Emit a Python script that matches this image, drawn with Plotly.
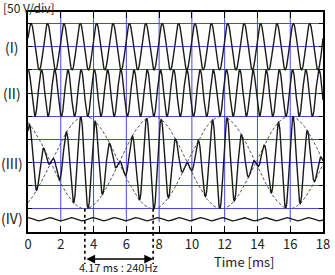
import numpy as np
import plotly.graph_objects as go

# ---- data ----
signal_labels = ["(I)", "(II)", "(III)", "(IV)"]
freq_hz = [1000.0, 1240.0]          # tone (I), tone (II)
first_peak_ms = [0.19, 0.018]       # time of first crest of (I), (II)
amp_div = [1.0, 1.0]                # 1 div = 50 V
baseline_div = [7.0, 5.0, 2.0, -0.45]
ripple_hz = 760.0                   # small residual trace (IV)
ripple_amp_div = 0.07
x_tick_vals = [0, 2, 4, 6, 8, 10, 12, 14, 16, 18]
grid_div = [0, 1, 2, 3, 4, 5, 6, 7, 8]
y_range = [-1.0, 8.5]
x_range = [0, 18]
beat_mark_index = [1, 2]            # envelope crests marked by dotted lines
beat_text = "4.17 ms : 240Hz"
scale_text = "[50 V/div]"
x_title = "Time [ms]"

t = np.linspace(x_range[0], x_range[1], 4001)
phi1 = 2 * np.pi * freq_hz[0] * (t - first_peak_ms[0]) / 1000.0
phi2 = 2 * np.pi * freq_hz[1] * (t - first_peak_ms[1]) / 1000.0
s1 = amp_div[0] * np.cos(phi1)
s2 = amp_div[1] * np.cos(phi2)
s3 = s1 + s2
env = (amp_div[0] + amp_div[1]) * np.cos((phi2 - phi1) / 2)
s4 = ripple_amp_div * np.cos(2 * np.pi * ripple_hz * t / 1000.0)

beat_hz = freq_hz[1] - freq_hz[0]
c0 = (freq_hz[0] * first_peak_ms[0] - freq_hz[1] * first_peak_ms[1]) / 1000.0
beat_marks = [(k - c0) / beat_hz * 1000.0 for k in beat_mark_index]

BLUE = "rgb(70,70,235)"
LINE = "#1a1a1a"
FONT = "Noto Sans CJK JP"

fig = go.Figure()
fig.add_trace(go.Scatter(x=t, y=baseline_div[2] + env, mode="lines",
                         line=dict(color="#555", width=1, dash="3px,2px"), hoverinfo="skip"))
fig.add_trace(go.Scatter(x=t, y=baseline_div[2] - env, mode="lines",
                         line=dict(color="#555", width=1, dash="3px,2px"), hoverinfo="skip"))
for base, s in zip(baseline_div, [s1, s2, s3, s4]):
    fig.add_trace(go.Scatter(x=t, y=base + s, mode="lines",
                             line=dict(color=LINE, width=1.4), hoverinfo="skip"))

# vertical grid lines (stop just under trace IV)
for xv in x_tick_vals[1:-1]:
    fig.add_shape(type="line", xref="x", yref="y", x0=xv, x1=xv,
                  y0=baseline_div[3] - 0.12, y1=y_range[1],
                  line=dict(color=BLUE, width=1), layer="below")

# dotted beat markers
def ypaper(v):
    return (v - y_range[0]) / (y_range[1] - y_range[0])

for bm in beat_marks:
    fig.add_shape(type="line", xref="x", yref="paper", x0=bm, x1=bm,
                  y0=ypaper(0), y1=-0.145,
                  line=dict(color="black", width=1.6, dash="dot"))

fig.add_annotation(x=beat_marks[1], y=-0.123, ax=beat_marks[0], ay=0,
                   xref="x", yref="paper", axref="x", ayref="pixel",
                   text="", showarrow=True, arrowhead=2, arrowside="end+start",
                   arrowsize=1.1, arrowwidth=1.6, arrowcolor="black")
fig.add_annotation(x=sum(beat_marks) / 2, y=-0.157, xref="x", yref="paper",
                   text=beat_text, showarrow=False, xanchor="center", yanchor="middle",
                   font=dict(family=FONT, size=11, color="#222"))

label_y = [baseline_div[0], baseline_div[1], baseline_div[2], baseline_div[3] + 0.05]
for lab, ly in zip(signal_labels, label_y):
    fig.add_annotation(x=-0.053, y=ly, xref="paper", yref="y", text=lab,
                       showarrow=False, xanchor="center", yanchor="middle",
                       font=dict(family=FONT, size=14, color="#222"))

fig.add_annotation(x=-0.09, y=1.022, xref="paper", yref="paper", text=scale_text,
                   showarrow=False, xanchor="left", yanchor="middle",
                   font=dict(family=FONT, size=12, color="#222"))
fig.add_annotation(x=0.732, y=-0.132, xref="paper", yref="paper", text=x_title,
                   showarrow=False, xanchor="center", yanchor="middle",
                   font=dict(family=FONT, size=13, color="#222"))

fig.update_xaxes(range=x_range, tickvals=x_tick_vals, ticktext=[str(v) for v in x_tick_vals],
                 showgrid=False, zeroline=False, showline=True, linecolor="black",
                 linewidth=1.5, mirror="ticks", ticks="inside", ticklen=6,
                 tickcolor="black", tickwidth=1, ticklabeloverflow="allow",
                 tickfont=dict(family=FONT, size=13, color="#222"))
fig.update_yaxes(range=y_range, tickvals=grid_div, showticklabels=False,
                 showgrid=True, gridcolor=BLUE, gridwidth=1, zeroline=False,
                 showline=True, linecolor="black", linewidth=1.5, mirror="ticks",
                 ticks="inside", ticklen=4, tickcolor="black", tickwidth=1)
fig.update_layout(width=335, height=275, margin=dict(l=28, r=5, t=12, b=43),
                  paper_bgcolor="white", plot_bgcolor="white", showlegend=False)
fig.write_html("out.html")
